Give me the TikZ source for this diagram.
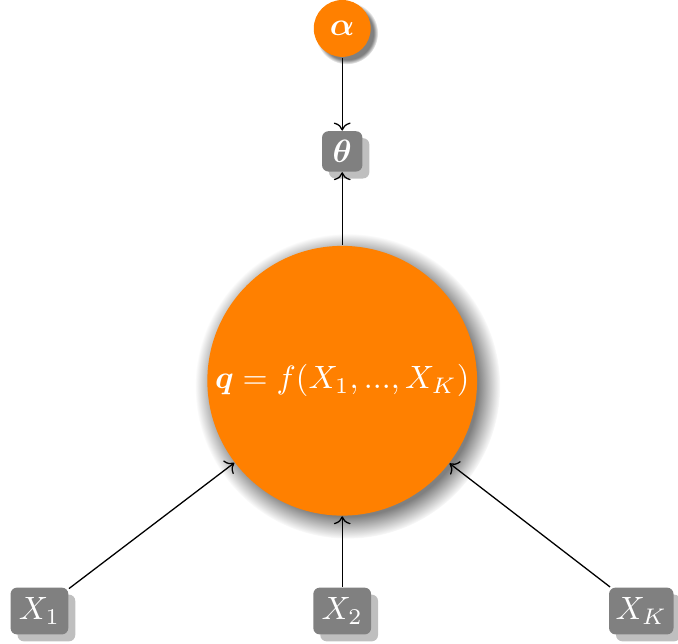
\documentclass[tikz,border=0pt]{standalone}
\usepackage{amsmath, amssymb}
\usepackage{tikz}
\usetikzlibrary{arrows.meta, shadows, positioning, calc}

\tikzset{
  latent/.style={circle, fill=orange, text=white, inner sep=0pt},
  param/.style={rectangle, rounded corners=2pt, fill=gray, text=white,
    drop shadow={fill=black!50, opacity=.5}, inner sep=2pt},
}

\begin{document}
\begin{tikzpicture}
\useasboundingbox (-3.73,-2.86) rectangle (3.66,4.15);

% model node
\node[latent, circular drop shadow={shadow scale=1.13, shadow xshift=.35ex, shadow yshift=-.35ex}, minimum size=2.94cm] (q)
  at (0,0) {$\boldsymbol{q} = f(X_1, ..., X_K)$};

% hyper-parameter and parameter
\node[latent, circular drop shadow, minimum size=0.62cm]
  (alpha) at (0,3.84) {$\boldsymbol{\alpha}$};
\node[param, minimum size=0.44cm] (theta) at (0,2.50) {$\boldsymbol{\theta}$};

% inputs
\node[param, minimum width=0.63cm, minimum height=0.51cm] (x1) at (-3.30,-2.51) {$X_1$};
\node[param, minimum width=0.63cm, minimum height=0.51cm] (x2) at (0,-2.51) {$X_2$};
\node[param, minimum width=0.69cm, minimum height=0.51cm] (xk) at (3.26,-2.51) {$X_K$};

\draw[->] (alpha) -- (theta);
\draw[->] (q) -- (theta);
\draw[->] (x1) -- (q);
\draw[->] (x2) -- (q);
\draw[->] (xk) -- (q);
\end{tikzpicture}
\end{document}
